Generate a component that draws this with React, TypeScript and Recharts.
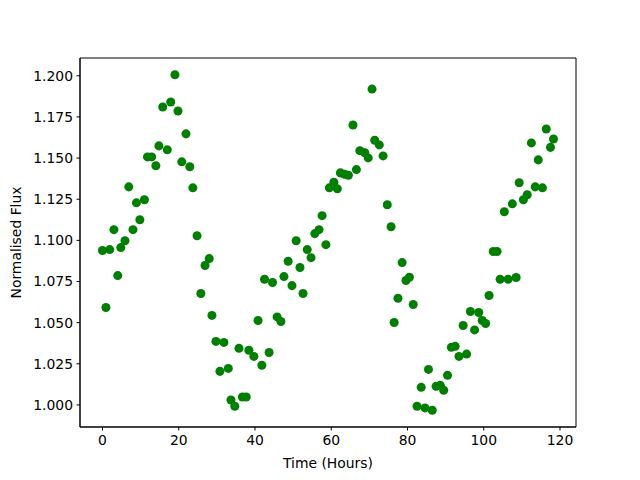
import { ScatterChart, Scatter, XAxis, YAxis, ZAxis, ReferenceArea } from 'recharts';

// Time stamps (hours) and normalised flux
const hours = [
  0, 0.9, 1.9, 3.0, 4.0, 4.8, 5.9, 6.9, 8.0, 8.9,
  9.8, 11.0, 11.8, 12.9, 14.0, 14.8, 15.8, 17.0, 17.9, 19.0,
  19.8, 20.8, 21.9, 22.9, 23.7, 24.8, 25.8, 26.9, 28.0, 28.7,
  29.75, 30.8, 31.85, 33.0, 33.7, 34.7, 35.8, 36.7, 37.7, 38.4,
  39.7, 40.8, 41.8, 42.5, 43.7, 44.6, 45.8, 46.8, 47.6, 48.7,
  49.7, 50.8, 51.8, 52.6, 53.7, 54.7, 55.7, 56.8, 57.6, 58.6,
  59.5, 60.7, 61.6, 62.4, 63.5, 64.5, 65.7, 66.6, 67.5, 68.8,
  69.7, 70.7, 71.4, 72.6, 73.6, 74.7, 75.7, 76.5, 77.5, 78.6,
  79.6, 80.5, 81.5, 82.5, 83.6, 84.6, 85.5, 86.5, 87.5, 88.6,
  89.5, 90.5, 91.5, 92.5, 93.5, 94.6, 95.5, 96.5, 97.6, 98.7,
  99.6, 100.5, 101.4, 102.5, 103.5, 104.3, 105.4, 106.4, 107.5, 108.5,
  109.3, 110.4, 111.4, 112.5, 113.5, 114.3, 115.4, 116.4, 117.5, 118.3,
];

const flux = [
  1.0938, 1.0592, 1.0944, 1.1065, 1.0786, 1.0956, 1.0998, 1.1325, 1.1065, 1.1228,
  1.1125, 1.1247, 1.1507, 1.1507, 1.1453, 1.1574, 1.181, 1.155, 1.1841, 1.2006,
  1.1786, 1.1477, 1.1647, 1.1447, 1.1319, 1.1028, 1.0677, 1.0847, 1.0889, 1.0544,
  1.0386, 1.0204, 1.038, 1.0222, 1.003, 0.9992, 1.0344, 1.0048, 1.0048, 1.0332,
  1.0295, 1.0513, 1.0241, 1.0764, 1.0319, 1.0744, 1.0535, 1.0507, 1.078, 1.0873,
  1.0725, 1.0998, 1.0835, 1.0677, 1.0944, 1.0895, 1.1041, 1.1065, 1.115, 1.0974,
  1.1319, 1.1353, 1.1313, 1.141, 1.1402, 1.1396, 1.1701, 1.143, 1.1545, 1.1532,
  1.1501, 1.1919, 1.1608, 1.158, 1.1513, 1.1216, 1.1083, 1.0501, 1.0648, 1.0865,
  1.0756, 1.0776, 1.061, 0.9992, 1.0107, 0.9982, 1.0216, 0.9968, 1.0113, 1.0119,
  1.0089, 1.018, 1.035, 1.0356, 1.0295, 1.0483, 1.0309, 1.0568, 1.0456, 1.0562,
  1.0513, 1.0495, 1.0665, 1.0932, 1.0932, 1.0764, 1.1174, 1.0764, 1.1222, 1.0774,
  1.135, 1.1247, 1.1277, 1.1592, 1.1325, 1.1489, 1.1319, 1.1677, 1.1565, 1.1616,
];

const xTicks = [0, 20, 40, 60, 80, 100, 120];
const yTicks = [1.0, 1.025, 1.05, 1.075, 1.1, 1.125, 1.15, 1.175, 1.2];

const xDomain: [number, number] = [-5.9, 124.2];
const yDomain: [number, number] = [0.9866, 1.2108];

const font = 'DejaVu Sans, sans-serif';
const tickStyle = { fill: '#000', fontSize: 13.9, fontFamily: font };

export default function App() {
  const points = hours.map((t, i) => ({ t, f: flux[i] }));

  return (
    <div style={{ position: 'absolute', left: 0, top: 0, background: '#fff' }}>
      <ScatterChart
        width={640}
        height={480}
        margin={{ top: 58, right: 64, bottom: 0, left: 0 }}
      >
        <XAxis
          type="number"
          dataKey="t"
          domain={xDomain}
          ticks={xTicks}
          allowDataOverflow
          height={53}
          tick={tickStyle}
          tickSize={3.5}
          tickMargin={5}
          stroke="#000"
          label={{
            value: 'Time (Hours)',
            position: 'insideBottom',
            offset: 12,
            fill: '#000',
            style: { fontSize: 13.9, fontFamily: font },
          }}
        />
        <YAxis
          type="number"
          dataKey="f"
          domain={yDomain}
          ticks={yTicks}
          allowDataOverflow
          width={80}
          tick={tickStyle}
          tickSize={3.5}
          tickMargin={3.5}
          tickFormatter={(v: number) => v.toFixed(3)}
          stroke="#000"
          label={{
            value: 'Normalised Flux',
            angle: -90,
            position: 'insideLeft',
            offset: 16,
            fill: '#000',
            style: { fontSize: 13.9, fontFamily: font, textAnchor: 'middle' },
          }}
        />
        <ZAxis range={[55, 55]} />
        {/* frame around the plot area, like matplotlib's spines */}
        <ReferenceArea
          x1={xDomain[0]}
          x2={xDomain[1]}
          y1={yDomain[0]}
          y2={yDomain[1]}
          fill="none"
          stroke="#000"
          strokeWidth={1}
          ifOverflow="visible"
        />
        <Scatter data={points} fill="#008000" isAnimationActive={false} />
      </ScatterChart>
    </div>
  );
}
